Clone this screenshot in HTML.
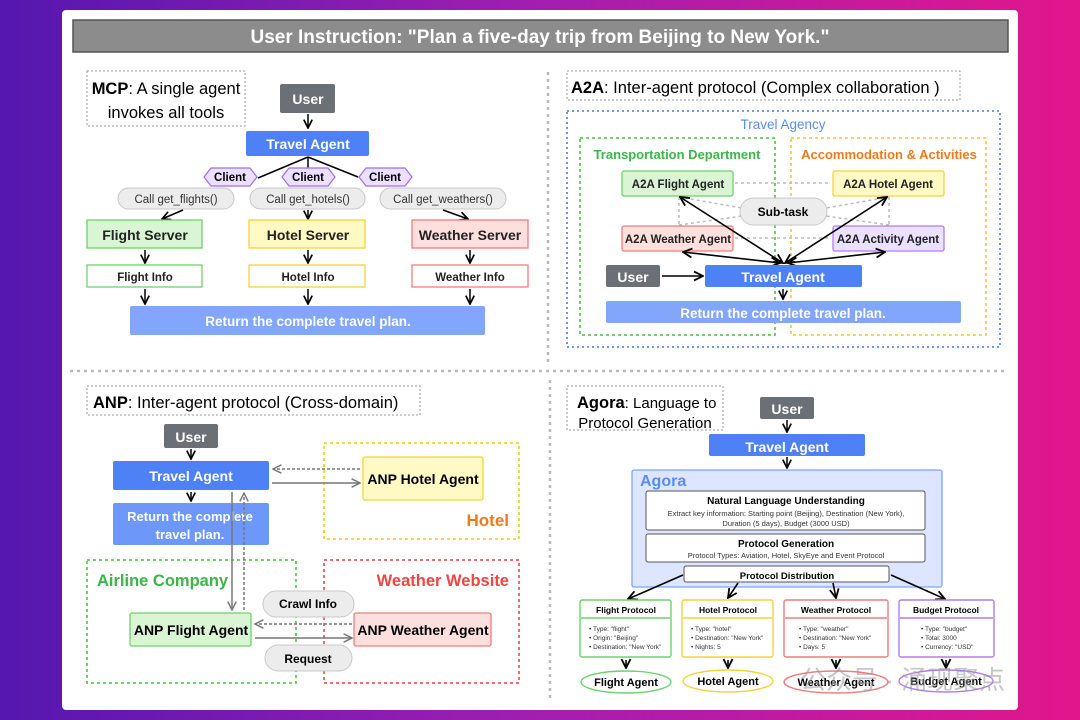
<!DOCTYPE html>
<html><head><meta charset="utf-8"><style>
html,body{margin:0;padding:0;width:1080px;height:720px;overflow:hidden;background:linear-gradient(90deg,#5417b0,#a21fb0 50%,#e2168c);}
svg{display:block;font-family:"Liberation Sans","Noto Sans CJK SC",sans-serif;}
.b{font-weight:bold}
</style></head><body>
<svg width="1080" height="720" viewBox="0 0 1080 720" xmlns="http://www.w3.org/2000/svg">
<defs>
<marker id="a" viewBox="0 0 10 10" refX="9" refY="5" markerWidth="7" markerHeight="7" orient="auto-start-reverse"><path d="M1,1 L9,5 L1,9" fill="none" stroke="#000" stroke-width="1.6"/></marker>
<marker id="g" viewBox="0 0 10 10" refX="9" refY="5" markerWidth="7" markerHeight="7" orient="auto-start-reverse"><path d="M1,1 L9,5 L1,9" fill="none" stroke="#777" stroke-width="1.4"/></marker>
</defs>
<rect x="62" y="10" width="956" height="700" rx="4" fill="#fff"/>
<rect x="73" y="20" width="935" height="32" fill="#8c8c8c" stroke="#555" stroke-width="1.5"/>
<text x="540" y="43" text-anchor="middle" fill="#fff" font-size="19" class="b">User Instruction: "Plan a five-day trip from Beijing to New York."</text>
<!-- dividers -->
<g stroke="#bbb" stroke-width="2.5" stroke-dasharray="3,4">
<line x1="548" y1="72" x2="548" y2="362"/><line x1="550" y1="380" x2="550" y2="702"/>
<line x1="70" y1="371" x2="1008" y2="371"/></g>

<!-- MCP -->
<rect x="87" y="71" width="158" height="55" fill="none" stroke="#999" stroke-dasharray="2,2"/>
<text x="166" y="94" text-anchor="middle" font-size="16.5"><tspan class="b">MCP</tspan>: A single agent</text>
<text x="166" y="118" text-anchor="middle" font-size="16.5">invokes all tools</text>
<rect x="280" y="84" width="55" height="29" rx="2" fill="#6b6f76"/><text x="308" y="104" text-anchor="middle" fill="#fff" font-size="14" class="b">User</text>
<line x1="308" y1="114" x2="308" y2="128" stroke="#000" stroke-width="1.5" marker-end="url(#a)"/>
<rect x="246" y="131" width="123" height="25" rx="2" fill="#4f81f6"/><text x="308" y="149" text-anchor="middle" fill="#fff" font-size="14" class="b">Travel Agent</text>
<g stroke="#000" stroke-width="1.5"><line x1="308" y1="157" x2="258" y2="178"/><line x1="308" y1="157" x2="308" y2="168"/><line x1="308" y1="157" x2="358" y2="177"/></g>
<g fill="#ece0ff" stroke="#9f6cf0" stroke-width="1.2">
<polygon points="211,168 250,168 257,177 250,186 211,186 204,177"/>
<polygon points="289,168 328,168 335,177 328,186 289,186 282,177"/>
<polygon points="366,168 405,168 412,177 405,186 366,186 359,177"/></g>
<g font-size="11.5" class="b" text-anchor="middle"><text x="230" y="181">Client</text><text x="308" y="181">Client</text><text x="385" y="181">Client</text></g>
<g fill="#ececec" stroke="#c8c8c8"><rect x="118" y="188" width="116" height="21" rx="10.5"/><rect x="250" y="188" width="115" height="21" rx="10.5"/><rect x="380" y="188" width="126" height="21" rx="10.5"/></g>
<g font-size="11.5" fill="#333" text-anchor="middle"><text x="176" y="203">Call get_flights()</text><text x="308" y="203">Call get_hotels()</text><text x="443" y="203">Call get_weathers()</text></g>
<g stroke="#000" stroke-width="1.5" marker-end="url(#a)">
<line x1="183" y1="210" x2="162" y2="219"/><line x1="308" y1="210" x2="308" y2="219"/><line x1="443" y1="210" x2="468" y2="219"/>
<line x1="145" y1="250" x2="145" y2="263"/><line x1="308" y1="250" x2="308" y2="263"/><line x1="470" y1="250" x2="470" y2="263"/>
<line x1="145" y1="289" x2="145" y2="304"/><line x1="308" y1="289" x2="308" y2="304"/><line x1="470" y1="289" x2="470" y2="304"/></g>
<rect x="87" y="220" width="115" height="28" fill="#d9f5d4" stroke="#6cd36a" stroke-width="1.3"/>
<rect x="249" y="220" width="116" height="28" fill="#fff9c4" stroke="#f3d23b" stroke-width="1.3"/>
<rect x="412" y="220" width="116" height="28" fill="#fde0de" stroke="#f07c7c" stroke-width="1.3"/>
<g font-size="14" class="b" text-anchor="middle" fill="#222"><text x="145" y="240">Flight Server</text><text x="308" y="240">Hotel Server</text><text x="470" y="240">Weather Server</text></g>
<rect x="87" y="265" width="115" height="22" fill="#fff" stroke="#6cd36a" stroke-width="1.3"/>
<rect x="249" y="265" width="116" height="22" fill="#fff" stroke="#f3d23b" stroke-width="1.3"/>
<rect x="412" y="265" width="116" height="22" fill="#fff" stroke="#f07c7c" stroke-width="1.3"/>
<g font-size="11.5" class="b" text-anchor="middle" fill="#222"><text x="145" y="281">Flight Info</text><text x="308" y="281">Hotel Info</text><text x="470" y="281">Weather Info</text></g>
<rect x="130" y="306" width="355" height="29" rx="2" fill="#81a6fb"/><text x="308" y="326" text-anchor="middle" fill="#fff" font-size="13.5" class="b">Return the complete travel plan.</text>

<!-- A2A -->
<rect x="567" y="71" width="393" height="29" fill="none" stroke="#999" stroke-dasharray="2,2"/>
<text x="571" y="93" font-size="16.5"><tspan class="b">A2A</tspan>: Inter-agent protocol (Complex collaboration )</text>
<rect x="567" y="111" width="433" height="236" fill="none" stroke="#5a8cf0" stroke-width="1.8" stroke-dasharray="2,3"/>
<text x="783" y="129" text-anchor="middle" fill="#5a8cf0" font-size="13.5">Travel Agency</text>
<rect x="580" y="138" width="195" height="197" fill="none" stroke="#5fcc52" stroke-width="1.8" stroke-dasharray="3,3"/>
<rect x="791" y="138" width="195" height="197" fill="none" stroke="#f3d23b" stroke-width="1.8" stroke-dasharray="3,3"/>
<text x="677" y="159" text-anchor="middle" fill="#3cb64a" font-size="13" class="b">Transportation Department</text>
<text x="889" y="159" text-anchor="middle" fill="#f07a1a" font-size="13" class="b">Accommodation &amp; Activities</text>
<g stroke="#bbb" stroke-width="1.5" stroke-dasharray="3,3" fill="none">
<line x1="735" y1="183" x2="831" y2="183"/><line x1="735" y1="238" x2="831" y2="238"/>
<polyline points="679,197 679,225"/><polyline points="889,197 889,225"/>
<line x1="679" y1="197" x2="742" y2="208"/><line x1="679" y1="225" x2="742" y2="216"/>
<line x1="889" y1="197" x2="826" y2="208"/><line x1="889" y1="225" x2="826" y2="216"/></g>
<rect x="622" y="171" width="111" height="25" rx="2" fill="#d9f5d4" stroke="#6cd36a" stroke-width="1.3"/>
<rect x="833" y="171" width="111" height="25" rx="2" fill="#fff9c4" stroke="#f3d23b" stroke-width="1.3"/>
<rect x="622" y="226" width="111" height="25" rx="2" fill="#fde0de" stroke="#f07c7c" stroke-width="1.3"/>
<rect x="833" y="226" width="111" height="25" rx="2" fill="#ece0ff" stroke="#b07cf0" stroke-width="1.3"/>
<g font-size="11.5" class="b" text-anchor="middle" fill="#222"><text x="678" y="188">A2A Flight Agent</text><text x="888" y="188">A2A Hotel Agent</text><text x="678" y="243">A2A Weather Agent</text><text x="888" y="243">A2A Activity Agent</text></g>
<rect x="740" y="198" width="87" height="27" rx="13.5" fill="#ececec" stroke="#c8c8c8"/><text x="783" y="216" text-anchor="middle" font-size="12" class="b">Sub-task</text>
<g stroke="#000" stroke-width="1.6" marker-end="url(#a)" marker-start="url(#a)">
<line x1="783" y1="263" x2="680" y2="197"/><line x1="785" y1="263" x2="887" y2="197"/>
<line x1="780" y1="263" x2="683" y2="252"/><line x1="788" y1="263" x2="885" y2="252"/></g>
<rect x="606" y="265" width="54" height="22" rx="2" fill="#6b6f76"/><text x="633" y="282" text-anchor="middle" fill="#fff" font-size="14" class="b">User</text>
<line x1="662" y1="276" x2="703" y2="276" stroke="#000" stroke-width="1.6" marker-end="url(#a)"/>
<rect x="705" y="265" width="157" height="22" rx="2" fill="#4f81f6"/><text x="783" y="282" text-anchor="middle" fill="#fff" font-size="14" class="b">Travel Agent</text>
<line x1="783" y1="289" x2="783" y2="299" stroke="#000" stroke-width="1.5" marker-end="url(#a)"/>
<rect x="606" y="301" width="355" height="22" rx="2" fill="#81a6fb"/><text x="783" y="318" text-anchor="middle" fill="#fff" font-size="13.5" class="b">Return the complete travel plan.</text>

<!-- ANP -->
<rect x="87" y="386" width="333" height="29" fill="none" stroke="#999" stroke-dasharray="2,2"/>
<text x="93" y="408" font-size="16.5"><tspan class="b">ANP</tspan>:  Inter-agent protocol (Cross-domain)</text>
<rect x="164" y="424" width="54" height="24" rx="2" fill="#6b6f76"/><text x="191" y="442" text-anchor="middle" fill="#fff" font-size="14" class="b">User</text>
<line x1="191" y1="449" x2="191" y2="459" stroke="#000" stroke-width="1.5" marker-end="url(#a)"/>
<rect x="113" y="461" width="156" height="29" rx="2" fill="#4f81f6"/><text x="191" y="481" text-anchor="middle" fill="#fff" font-size="14" class="b">Travel Agent</text>
<line x1="191" y1="492" x2="191" y2="501" stroke="#000" stroke-width="1.5" marker-end="url(#a)"/>
<rect x="113" y="503" width="156" height="42" rx="2" fill="#6d97f8"/>
<text x="190" y="521" text-anchor="middle" fill="#fff" font-size="13" class="b">Return the complete</text>
<text x="190" y="539" text-anchor="middle" fill="#fff" font-size="13" class="b">travel plan.</text>
<rect x="324" y="443" width="195" height="96" fill="none" stroke="#f3d23b" stroke-width="1.8" stroke-dasharray="3,3"/>
<rect x="363" y="457" width="120" height="43" rx="2" fill="#fff9c4" stroke="#f3d23b" stroke-width="1.3"/>
<text x="423" y="484" text-anchor="middle" font-size="14" class="b">ANP Hotel Agent</text>
<text x="509" y="526" text-anchor="end" fill="#f07a1a" font-size="17" class="b">Hotel</text>
<rect x="87" y="560" width="209" height="123" fill="none" stroke="#5fcc52" stroke-width="1.8" stroke-dasharray="3,3"/>
<text x="97" y="586" fill="#3cb64a" font-size="16.5" class="b">Airline Company</text>
<rect x="324" y="560" width="195" height="123" fill="none" stroke="#f05a5a" stroke-width="1.8" stroke-dasharray="3,3"/>
<text x="509" y="586" text-anchor="end" fill="#ef4444" font-size="16.5" class="b">Weather Website</text>
<g stroke="#777" stroke-width="1.5">
<line x1="360" y1="469" x2="273" y2="469" stroke-dasharray="3,2" marker-end="url(#g)"/>
<line x1="272" y1="483" x2="360" y2="483" marker-end="url(#g)"/>
<line x1="232" y1="492" x2="232" y2="610" marker-end="url(#g)"/>
<line x1="244" y1="610" x2="244" y2="493" stroke-dasharray="3,2" marker-end="url(#g)"/>
<line x1="352" y1="624" x2="255" y2="624" stroke-dasharray="3,2" marker-end="url(#g)"/>
<line x1="255" y1="638" x2="352" y2="638" marker-end="url(#g)"/></g>
<rect x="130" y="613" width="121" height="33" rx="2" fill="#d9f5d4" stroke="#6cd36a" stroke-width="1.3"/>
<text x="191" y="635" text-anchor="middle" font-size="14" class="b">ANP Flight Agent</text>
<rect x="354" y="613" width="137" height="33" rx="2" fill="#fde0de" stroke="#f07c7c" stroke-width="1.3"/>
<text x="423" y="635" text-anchor="middle" font-size="14" class="b">ANP Weather Agent</text>
<rect x="263" y="591" width="91" height="26" rx="13" fill="#ececec" stroke="#c8c8c8"/><text x="308" y="608" text-anchor="middle" font-size="12" class="b">Crawl Info</text>
<rect x="265" y="645" width="87" height="26" rx="13" fill="#ececec" stroke="#c8c8c8"/><text x="308" y="663" text-anchor="middle" font-size="12" class="b">Request</text>

<!-- Agora -->
<rect x="567" y="386" width="156" height="44" fill="none" stroke="#999" stroke-dasharray="2,2"/>
<text x="577" y="408" font-size="15"><tspan class="b" font-size="16.5">Agora</tspan>: Language to</text>
<text x="645" y="428" text-anchor="middle" font-size="15">Protocol Generation</text>
<rect x="760" y="397" width="54" height="22" rx="2" fill="#6b6f76"/><text x="787" y="414" text-anchor="middle" fill="#fff" font-size="14" class="b">User</text>
<line x1="787" y1="420" x2="787" y2="432" stroke="#000" stroke-width="1.5" marker-end="url(#a)"/>
<rect x="709" y="434" width="156" height="22" rx="2" fill="#4f81f6"/><text x="787" y="452" text-anchor="middle" fill="#fff" font-size="14" class="b">Travel Agent</text>
<line x1="787" y1="457" x2="787" y2="468" stroke="#000" stroke-width="1.5" marker-end="url(#a)"/>
<rect x="632" y="470" width="310" height="117" rx="2" fill="#dde6fe" stroke="#7fa4f8" stroke-width="1.3"/>
<text x="640" y="486" fill="#5a8cf0" font-size="16" class="b">Agora</text>
<rect x="646" y="491" width="279" height="39" rx="2" fill="#fff" stroke="#555"/>
<text x="786" y="504" text-anchor="middle" font-size="10" class="b">Natural Language Understanding</text>
<text x="786" y="516" text-anchor="middle" font-size="7.5" fill="#333">Extract key information: Starting point (Beijing), Destination (New York),</text>
<text x="786" y="526" text-anchor="middle" font-size="7.5" fill="#333">Duration (5 days), Budget (3000 USD)</text>
<rect x="646" y="534" width="279" height="28" rx="2" fill="#fff" stroke="#555"/>
<text x="786" y="547" text-anchor="middle" font-size="10" class="b">Protocol Generation</text>
<text x="786" y="558" text-anchor="middle" font-size="7.5" fill="#333">Protocol Types: Aviation, Hotel, SkyEye and Event Protocol</text>
<rect x="684" y="566" width="205" height="16" rx="2" fill="#fff" stroke="#555"/>
<text x="787" y="579" text-anchor="middle" font-size="9.5" class="b">Protocol Distribution</text>
<g stroke="#000" stroke-width="1.6" marker-end="url(#a)">
<line x1="683" y1="575" x2="628" y2="599"/><line x1="738" y1="583" x2="728" y2="598"/>
<line x1="833" y1="583" x2="836" y2="598"/><line x1="891" y1="575" x2="945" y2="599"/>
<line x1="626" y1="660" x2="626" y2="668"/><line x1="728" y1="660" x2="728" y2="668"/>
<line x1="836" y1="660" x2="836" y2="668"/><line x1="946" y1="660" x2="946" y2="668"/></g>
<g stroke-width="1.4" fill="#fff">
<rect x="580" y="600" width="91" height="57" rx="2" stroke="#6cd36a"/>
<rect x="682" y="600" width="91" height="57" rx="2" stroke="#f3d23b"/>
<rect x="784" y="600" width="104" height="57" rx="2" stroke="#f07c7c"/>
<rect x="899" y="600" width="95" height="57" rx="2" stroke="#b07cf0"/></g>
<line x1="581" y1="618" x2="670" y2="618" stroke="#6cd36a" stroke-width="1.5"/>
<line x1="683" y1="618" x2="772" y2="618" stroke="#f3d23b" stroke-width="1.5"/>
<line x1="785" y1="618" x2="887" y2="618" stroke="#f07c7c" stroke-width="1.5"/>
<line x1="900" y1="618" x2="993" y2="618" stroke="#b07cf0" stroke-width="1.5"/>
<g font-size="8.5" class="b" text-anchor="middle"><text x="626" y="613">Flight Protocol</text><text x="728" y="613">Hotel Protocol</text><text x="836" y="613">Weather Protocol</text><text x="946" y="613">Budget Protocol</text></g>
<g font-size="6.5" fill="#333">
<text x="589" y="631">•  Type: "flight"</text><text x="589" y="640">•  Origin: "Beijing"</text><text x="589" y="649">•  Destination: "New York"</text>
<text x="691" y="631">•  Type: "hotel"</text><text x="691" y="640">•  Destination: "New York"</text><text x="691" y="649">•  Nights: 5</text>
<text x="799" y="631">•  Type: "weather"</text><text x="799" y="640">•  Destination: "New York"</text><text x="799" y="649">•  Days: 5</text>
<text x="921" y="631">•  Type: "budget"</text><text x="921" y="640">•  Total: 3000</text><text x="921" y="649">•  Currency: "USD"</text></g>
<g fill="#fff" stroke-width="1.4">
<ellipse cx="626" cy="682" rx="45" ry="11" stroke="#6cd36a"/><ellipse cx="728" cy="681" rx="45" ry="11" stroke="#f3d23b"/>
<ellipse cx="836" cy="682" rx="52" ry="11" stroke="#f07c7c"/><ellipse cx="946" cy="681" rx="47" ry="11" stroke="#b07cf0"/></g>
<g font-size="11" class="b" text-anchor="middle"><text x="626" y="686">Flight Agent</text><text x="728" y="685">Hotel Agent</text><text x="836" y="686">Weather Agent</text><text x="946" y="685">Budget Agent</text></g>
<text x="800" y="689" font-size="26" fill="#999" opacity="0.55">公众号 · 涌现聚点</text>
</svg>
</body></html>
